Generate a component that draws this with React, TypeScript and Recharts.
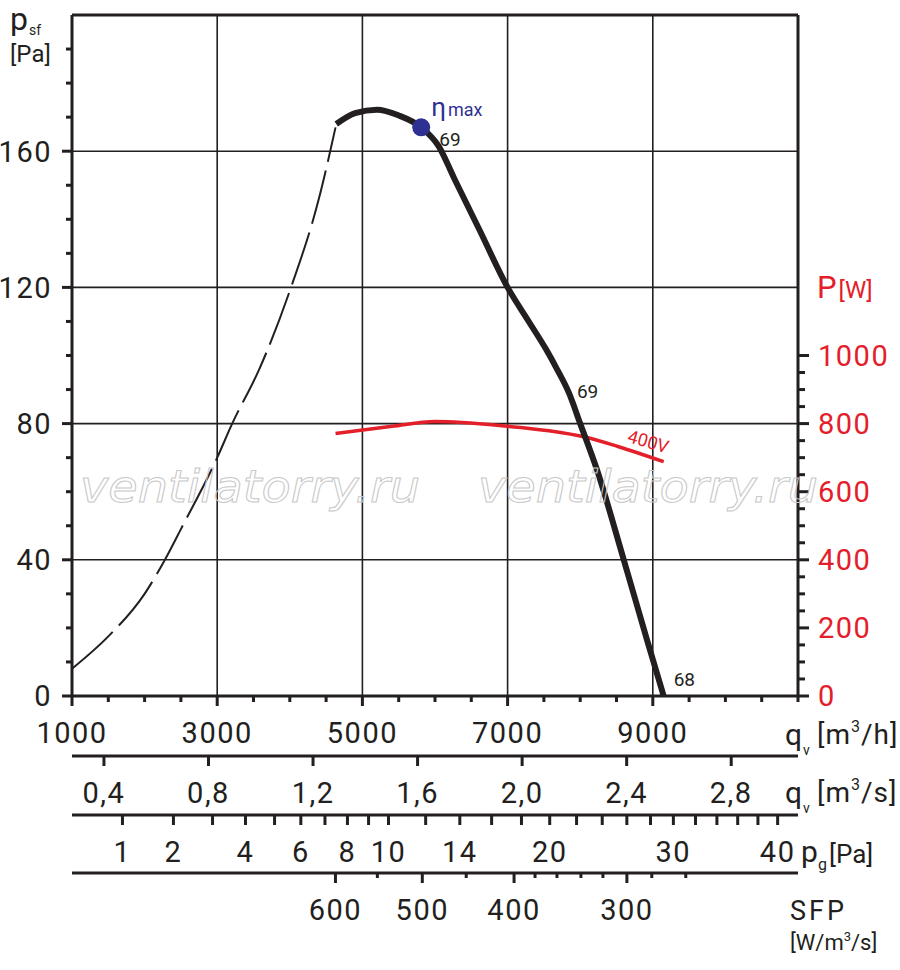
import { LineChart, Line, XAxis, YAxis, ReferenceLine, ReferenceDot } from "recharts"

const INK = "#231f20"
const RED = "#e3202a"
const BLUE = "#2e3192"
const FONT = "Roboto, 'DejaVu Sans', sans-serif"

// p_sf curve, unstable part (dashed) and working part (solid)
const stallFlow = [1000, 1500, 2000, 2280, 2500, 3000, 3200, 3580, 4000, 4400, 4630]
const stallPressure = [8, 17.5, 30, 40, 49, 70, 79.7, 96, 119, 146, 167]

const workFlow = [4640, 4900, 5200, 5500, 5810, 6050, 6265, 6610, 7000, 7300, 7530, 7680, 7845, 8000, 8230, 8600, 8920, 9150]
const workPressure = [168, 171.2, 172.2, 170.5, 167, 161.5, 152, 137, 120, 109.7, 101.8, 96, 89, 80, 66.5, 40, 16.5, 0]

// input power, 400V
const powerFlow = [4630, 5410, 6000, 7000, 7570, 8080, 8530, 9150]
const powerWatts = [771, 792, 806, 792, 779, 760, 732, 688]

const etaMaxFlow = 5810
const etaMaxPressure = 167

// axes
const flowDomain = [1000, 11000]
const flowTicks = [1000, 1500, 2000, 2500, 3000, 3500, 4000, 4500, 5000, 5500, 6000, 6500, 7000, 7500, 8000, 8500, 9000, 9500, 10000, 10500, 11000]
const flowLabels = [1000, 3000, 5000, 7000, 9000]
const flowGrid = [3000, 5000, 7000, 9000]

const pressureTicks = [0, 10, 20, 30, 40, 50, 60, 70, 80, 90, 100, 110, 120, 130, 140, 150, 160, 170, 180, 190]
const pressureLabels = [0, 40, 80, 120, 160]
const pressureGrid = [40, 80, 120, 160]

const powerTicks = [0, 50, 100, 150, 200, 250, 300, 350, 400, 450, 500, 550, 600, 650, 700, 750, 800, 850, 900, 950, 1000]
const powerLabels = [0, 200, 400, 600, 800, 1000]

const flowSecTicks = [0.4, 0.8, 1.2, 1.6, 2.0, 2.4, 2.8]
const flowSecDomain = [1000 / 3600, 11000 / 3600]

const dynTicks = [1, 2, 3, 4, 5, 6, 7, 8, 9, 10, 12, 14, 16, 18, 20, 22, 24, 26, 28, 30, 32, 34, 36, 38, 40]
const dynLabels = [1, 2, 4, 6, 8, 10, 14, 20, 30, 40]
const dynDomain = [0.348, 42.12]

// SFP scale is not linear: tick positions read as m3/h
const sfpTickFlows = [4629, 5206, 5825, 6430, 7089, 7378, 7680, 8010, 8313, 8643, 8986, 9454]
const sfpTickValues = [600, 550, 500, 450, 400, 380, 360, 340, 320, 300, 280, 260]
const sfpLabels = [600, 500, 400, 300]

const stallData = stallFlow.map((q, i) => ({ q, p: stallPressure[i] }))
const workData = workFlow.map((q, i) => ({ q, p: workPressure[i] }))
const powerData = powerFlow.map((q, i) => ({ q, w: powerWatts[i] }))

// the extra scales carry no curve, an invisible two point series gives them a domain
const span = (d: number[]) => d.map((q) => ({ q, p: 0 }))

const tickText = { fontFamily: FONT, fontSize: 29, fill: INK, letterSpacing: 1.5 }

function FlowTick({ x, y, payload }: any) {
  const major = flowLabels.includes(payload.value)
  return (
    <g>
      <line x1={x} x2={x} y1={y} y2={y + (major ? 10 : 6)} stroke={INK} strokeWidth={3} />
      {major && <text x={x} y={y + 47} textAnchor="middle" {...tickText}>{payload.value}</text>}
    </g>
  )
}

function FlowSecTick({ x, y, payload }: any) {
  return (
    <g>
      <line x1={x} x2={x} y1={y} y2={y + 10} stroke={INK} strokeWidth={3} />
      <text x={x} y={y + 47} textAnchor="middle" {...tickText}>
        {Number(payload.value).toFixed(1).replace(".", ",")}
      </text>
    </g>
  )
}

function DynTick({ x, y, payload }: any) {
  const major = dynLabels.includes(payload.value)
  return (
    <g>
      <line x1={x} x2={x} y1={y} y2={y + 10} stroke={INK} strokeWidth={3} />
      {major && <text x={x} y={y + 47} textAnchor="middle" {...tickText}>{payload.value}</text>}
    </g>
  )
}

function SfpTick({ x, y, payload }: any) {
  const value = sfpTickValues[sfpTickFlows.indexOf(payload.value)]
  const major = sfpLabels.includes(value)
  return (
    <g>
      <line x1={x} x2={x} y1={y} y2={y + (major ? 10 : 5)} stroke={INK} strokeWidth={3} />
      {major && <text x={x} y={y + 47} textAnchor="middle" {...tickText}>{value}</text>}
    </g>
  )
}

function PressureTick({ x, y, payload }: any) {
  const major = pressureLabels.includes(payload.value)
  return (
    <g>
      <line x1={x} x2={x - (major ? 10 : 6)} y1={y} y2={y} stroke={INK} strokeWidth={3} />
      {major && (
        <text x={x - 20} y={y} dy="0.36em" textAnchor="end" {...tickText}>{payload.value}</text>
      )}
    </g>
  )
}

function PowerTick({ x, y, payload }: any) {
  const major = powerLabels.includes(payload.value)
  return (
    <g>
      <line x1={x} x2={x + (major ? 11 : 7)} y1={y} y2={y} stroke={INK} strokeWidth={3} />
      {major && (
        <text x={x + 20} y={y} dy="0.36em" {...tickText} fill={RED}>{payload.value}</text>
      )}
    </g>
  )
}

function note(text: string, dx: number, dy: number, size = 19, color = INK) {
  return (p: any) => (
    <text x={p.cx + dx} y={p.cy + dy} fontFamily={FONT} fontSize={size} fill={color}>{text}</text>
  )
}

const axisLine = { stroke: INK, strokeWidth: 3 }

const bottomAxis = {
  dataKey: "q",
  type: "number" as const,
  allowDataOverflow: true,
  interval: 0,
  tickSize: 0,
  tickMargin: 0,
  tickLine: false,
  axisLine,
}

export default function App() {
  return (
    <div style={{ position: "absolute", left: 0, top: 0, width: 900, height: 970, background: "#fff" }}>
      <LineChart width={900} height={970} margin={{ top: 15, right: 12, left: 12, bottom: 37 }}>
        <XAxis
          {...bottomAxis}
          xAxisId="a_flow"
          domain={flowDomain}
          ticks={flowTicks}
          height={60}
          tick={(p: any) => <FlowTick {...p} />}
        />
        <XAxis
          {...bottomAxis}
          xAxisId="b_flowsec"
          domain={flowSecDomain}
          ticks={flowSecTicks}
          height={59}
          tick={(p: any) => <FlowSecTick {...p} />}
        />
        <XAxis
          {...bottomAxis}
          xAxisId="c_dyn"
          scale="sqrt"
          domain={dynDomain}
          ticks={dynTicks}
          height={58}
          tick={(p: any) => <DynTick {...p} />}
        />
        <XAxis
          {...bottomAxis}
          xAxisId="d_sfp"
          domain={flowDomain}
          ticks={sfpTickFlows}
          height={60}
          tick={(p: any) => <SfpTick {...p} />}
        />
        <YAxis
          yAxisId="left"
          type="number"
          domain={[0, 200]}
          allowDataOverflow
          ticks={pressureTicks}
          interval={0}
          width={60}
          tickSize={0}
          tickMargin={0}
          tickLine={false}
          axisLine={axisLine}
          tick={(p: any) => <PressureTick {...p} />}
        />
        <YAxis
          yAxisId="right"
          orientation="right"
          type="number"
          domain={[0, 2000]}
          allowDataOverflow
          ticks={powerTicks}
          interval={0}
          width={90}
          tickSize={0}
          tickMargin={0}
          tickLine={false}
          axisLine={axisLine}
          tick={(p: any) => <PowerTick {...p} />}
        />

        {[
          ["b_flowsec", flowSecDomain],
          ["c_dyn", dynDomain],
          ["d_sfp", flowDomain],
        ].map(([id, d]: any) => (
          <Line
            key={id}
            xAxisId={id}
            yAxisId="left"
            data={span(d)}
            dataKey="p"
            stroke="none"
            dot={false}
            activeDot={false}
            legendType="none"
            isAnimationActive={false}
          />
        ))}

        {flowGrid.map((q) => (
          <ReferenceLine key={"v" + q} xAxisId="a_flow" yAxisId="left" x={q} stroke={INK} strokeWidth={1.6} />
        ))}
        {pressureGrid.map((p) => (
          <ReferenceLine key={"h" + p} xAxisId="a_flow" yAxisId="left" y={p} stroke={INK} strokeWidth={1.6} />
        ))}
        <ReferenceLine xAxisId="a_flow" yAxisId="left" y={200} stroke={INK} strokeWidth={3} />

        <Line
          xAxisId="a_flow"
          yAxisId="right"
          data={powerData}
          dataKey="w"
          type="monotone"
          stroke={RED}
          strokeWidth={3.5}
          dot={false}
          activeDot={false}
          isAnimationActive={false}
        />
        <Line
          xAxisId="a_flow"
          yAxisId="left"
          data={stallData}
          dataKey="p"
          type="monotone"
          stroke={INK}
          strokeWidth={2}
          strokeDasharray="55 9"
          dot={false}
          activeDot={false}
          isAnimationActive={false}
        />
        <Line
          xAxisId="a_flow"
          yAxisId="left"
          data={workData}
          dataKey="p"
          type="monotone"
          stroke={INK}
          strokeWidth={6}
          dot={false}
          activeDot={false}
          isAnimationActive={false}
        />

        <ReferenceDot xAxisId="a_flow" yAxisId="left" x={etaMaxFlow} y={etaMaxPressure} r={9} fill={BLUE} stroke="none" />
        <ReferenceDot
          xAxisId="a_flow"
          yAxisId="left"
          x={etaMaxFlow}
          y={etaMaxPressure}
          r={1}
          shape={(p: any) => (
            <text x={p.cx + 10} y={p.cy - 11} fontFamily={FONT} fill={BLUE}>
              <tspan fontSize={26}>η</tspan>
              <tspan fontSize={18} dx={2}>max</tspan>
            </text>
          )}
        />
        <ReferenceDot xAxisId="a_flow" yAxisId="left" x={etaMaxFlow} y={etaMaxPressure} r={1} shape={note("69", 18, 19)} />
        <ReferenceDot xAxisId="a_flow" yAxisId="left" x={workFlow[12]} y={workPressure[12]} r={1} shape={note("69", 8, 5)} />
        <ReferenceDot xAxisId="a_flow" yAxisId="left" x={workFlow[17]} y={workPressure[17]} r={1} shape={note("68", 10, -10)} />
        <ReferenceDot
          xAxisId="a_flow"
          yAxisId="right"
          x={8900}
          y={706}
          r={1}
          shape={(p: any) => (
            <text
              x={p.cx + 1}
              y={p.cy - 8}
              textAnchor="middle"
              transform={`rotate(16 ${p.cx + 1} ${p.cy - 8})`}
              fontFamily={FONT}
              fontSize={18}
              fill={RED}
            >
              400V
            </text>
          )}
        />
      </LineChart>

      <svg
        width={900}
        height={970}
        style={{ position: "absolute", left: 0, top: 0, pointerEvents: "none" }}
        fontFamily={FONT}
        fill={INK}
      >
        {[80, 478].map((x) => (
          <text
            key={x}
            x={x}
            y={502}
            fontFamily="'DejaVu Sans', sans-serif"
            fontStyle="italic"
            fontSize={44}
            textLength={340}
            lengthAdjust="spacingAndGlyphs"
            fill="none"
            stroke="#c8c8c8"
            strokeWidth={1}
          >
            ventilatorry.ru
          </text>
        ))}

        <text x={10} y={30} fontSize={32}>p</text>
        <text x={29} y={35} fontSize={14}>sf</text>
        <text x={10} y={62} fontSize={24}>[Pa]</text>

        <text x={817} y={298} fill={RED}>
          <tspan fontSize={31}>P</tspan>
          <tspan fontSize={24} dx={2}>[W]</tspan>
        </text>

        <text x={785} y={745} fontSize={30}>q</text>
        <text x={803} y={755} fontSize={14}>v</text>
        <text x={817} y={744} fontSize={28} letterSpacing={1}>
          [m<tspan fontSize={16} dy={-12}>3</tspan>
          <tspan dy={12}>/h]</tspan>
        </text>

        <text x={785} y={803} fontSize={30}>q</text>
        <text x={803} y={813} fontSize={14}>v</text>
        <text x={817} y={802} fontSize={28} letterSpacing={1}>
          [m<tspan fontSize={16} dy={-12}>3</tspan>
          <tspan dy={12}>/s]</tspan>
        </text>

        <text x={801} y={862} fontSize={30}>p</text>
        <text x={818} y={870} fontSize={16}>g</text>
        <text x={829} y={863} fontSize={26}>[Pa]</text>

        <text x={790} y={920} fontSize={27} letterSpacing={3}>SFP</text>
        <text x={790} y={950} fontSize={22}>
          [W/m<tspan fontSize={13} dy={-9}>3</tspan>
          <tspan dy={9}>/s]</tspan>
        </text>
      </svg>
    </div>
  )
}
